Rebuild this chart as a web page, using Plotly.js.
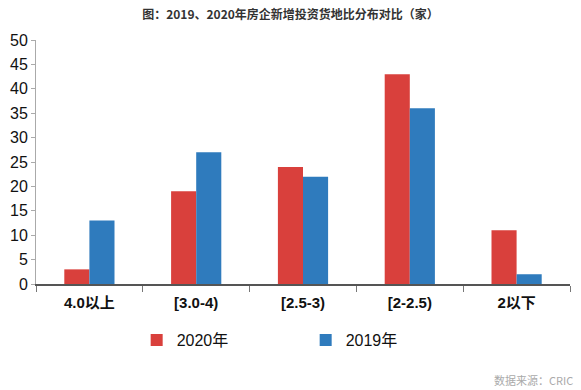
<!DOCTYPE html>
<html><head><meta charset="utf-8">
<script src="https://cdn.plot.ly/plotly-3.0.1.min.js"></script>
<style>body{margin:0;background:#fff}#c{width:581px;height:390px}</style>
</head><body><div id="c"></div>
<script>
var categories = ["4.0以上", "[3.0-4)", "[2.5-3)", "[2-2.5)", "2以下"];
var values2020 = [3, 19, 24, 43, 11];
var values2019 = [13, 27, 22, 36, 2];
var seriesNames = ["2020年", "2019年"];
var yTicks = [0, 5, 10, 15, 20, 25, 30, 35, 40, 45, 50];

var font = "Arial, 'Liberation Sans', 'Noto Sans CJK SC', sans-serif";
var data = [
  {type: "bar", name: seriesNames[0], x: categories, y: values2020, marker: {color: "#d9403c"}},
  {type: "bar", name: seriesNames[1], x: categories, y: values2019, marker: {color: "#2f7bbd"}}
];
var layout = {
  width: 581, height: 390,
  margin: {l: 36, r: 11, t: 40, b: 106},
  paper_bgcolor: "#fff", plot_bgcolor: "#fff",
  barmode: "group", bargap: 0.53, bargroupgap: 0,
  title: {text: "<b>图：2019、2020年房企新增投资货地比分布对比（家）</b>", x: 0.5, xanchor: "center", y: 0.962, yanchor: "middle",
          font: {family: "'Noto Sans CJK SC', sans-serif", size: 12, color: "#333"}},
  xaxis: {type: "category", showline: true, linecolor: "#555", linewidth: 2,
          ticks: "outside", tickson: "boundaries", ticklen: 6, tickcolor: "#777", tickwidth: 1,
          ticklabelstandoff: 4,
          tickfont: {family: font, size: 15, color: "#111", weight: "bold"}, showgrid: false},
  yaxis: {range: [0, 50], tickvals: yTicks, showline: true, linecolor: "#aaa", linewidth: 1,
          ticks: "outside", ticklen: 4, tickcolor: "#aaa", showgrid: false, zeroline: false,
          tickfont: {family: font, size: 16, color: "#111"}},
  showlegend: true,
  legend: {orientation: "h", x: 0.505, xanchor: "center", y: -0.16, yanchor: "top",
           entrywidth: 124, entrywidthmode: "pixels", itemwidth: 30,
           font: {family: font, size: 16, color: "#111"}},
  annotations: [{text: "数据来源：CRIC", xref: "paper", yref: "paper", x: 1.01, y: -0.395, xanchor: "right", yanchor: "middle",
                 showarrow: false, font: {family: "'Noto Sans CJK SC', sans-serif", size: 11, color: "#aaa"}}]
};
Plotly.newPlot("c", data, layout, {displayModeBar: false});
</script></body></html>
